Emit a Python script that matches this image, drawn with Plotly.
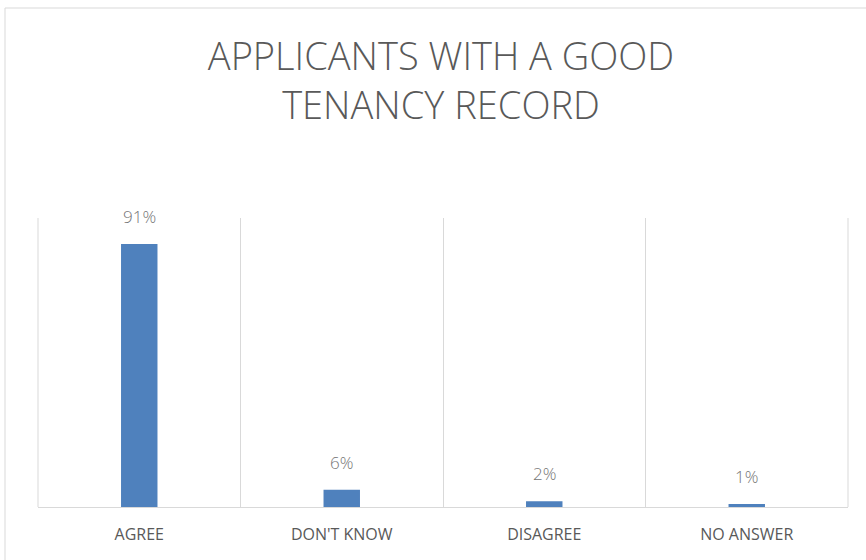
import plotly.graph_objects as go

categories = ["AGREE", "DON'T KNOW", "DISAGREE", "NO ANSWER"]
values = [91, 6, 2, 1]
labels = ["91%", "6%", "2%", "1%"]

fig = go.Figure(go.Bar(
    x=categories, y=values,
    marker=dict(color="#4F81BD", line=dict(width=0)),
    width=0.18, hoverinfo="x+y",
))

for c, v, t in zip(categories, values, labels):
    fig.add_annotation(x=c, y=v, text=t, showarrow=False, yanchor="bottom",
                       yshift=14, font=dict(family="Open Sans", size=17, color="#757575", weight=300))

fig.update_layout(
    width=866, height=560,
    margin=dict(l=38, r=18, t=218, b=53),
    paper_bgcolor="white", plot_bgcolor="white",
    showlegend=False,
    title=dict(text="APPLICANTS WITH A GOOD<br>TENANCY RECORD",
               x=441 / 866, xanchor="center", y=1 - 70 / 560, yanchor="middle",
               font=dict(family="Open Sans", size=38, color="#595959", weight=300)),
    xaxis=dict(tickson="boundaries", showgrid=True, gridcolor="#D9D9D9", gridwidth=1,
               showline=True, linecolor="#D9D9D9", linewidth=1, ticks="",
               range=[-0.5, 3.5],
               tickfont=dict(family="Open Sans", size=16, color="#595959", weight=400),
               ticklabelstandoff=13),
    yaxis=dict(range=[0, 100], showgrid=False, showticklabels=False, zeroline=False,
               showline=False),
    shapes=[
        dict(type="rect", xref="paper", yref="paper",
             x0=(5 - 38) / 810, x1=1.2, y0=-0.5, y1=(507 - 8) / 289,
             line=dict(color="#D9D9D9", width=1), fillcolor="rgba(0,0,0,0)", layer="below"),
        dict(type="line", xref="paper", yref="paper", x0=0, x1=0, y0=0, y1=1,
             line=dict(color="#D9D9D9", width=1), layer="below"),
        dict(type="line", xref="paper", yref="paper", x0=1, x1=1, y0=0, y1=1,
             line=dict(color="#D9D9D9", width=1), layer="below"),
    ],
)

fig.write_html("out.html", post_script="document.body.style.margin='0';",
               config={"displayModeBar": False})
